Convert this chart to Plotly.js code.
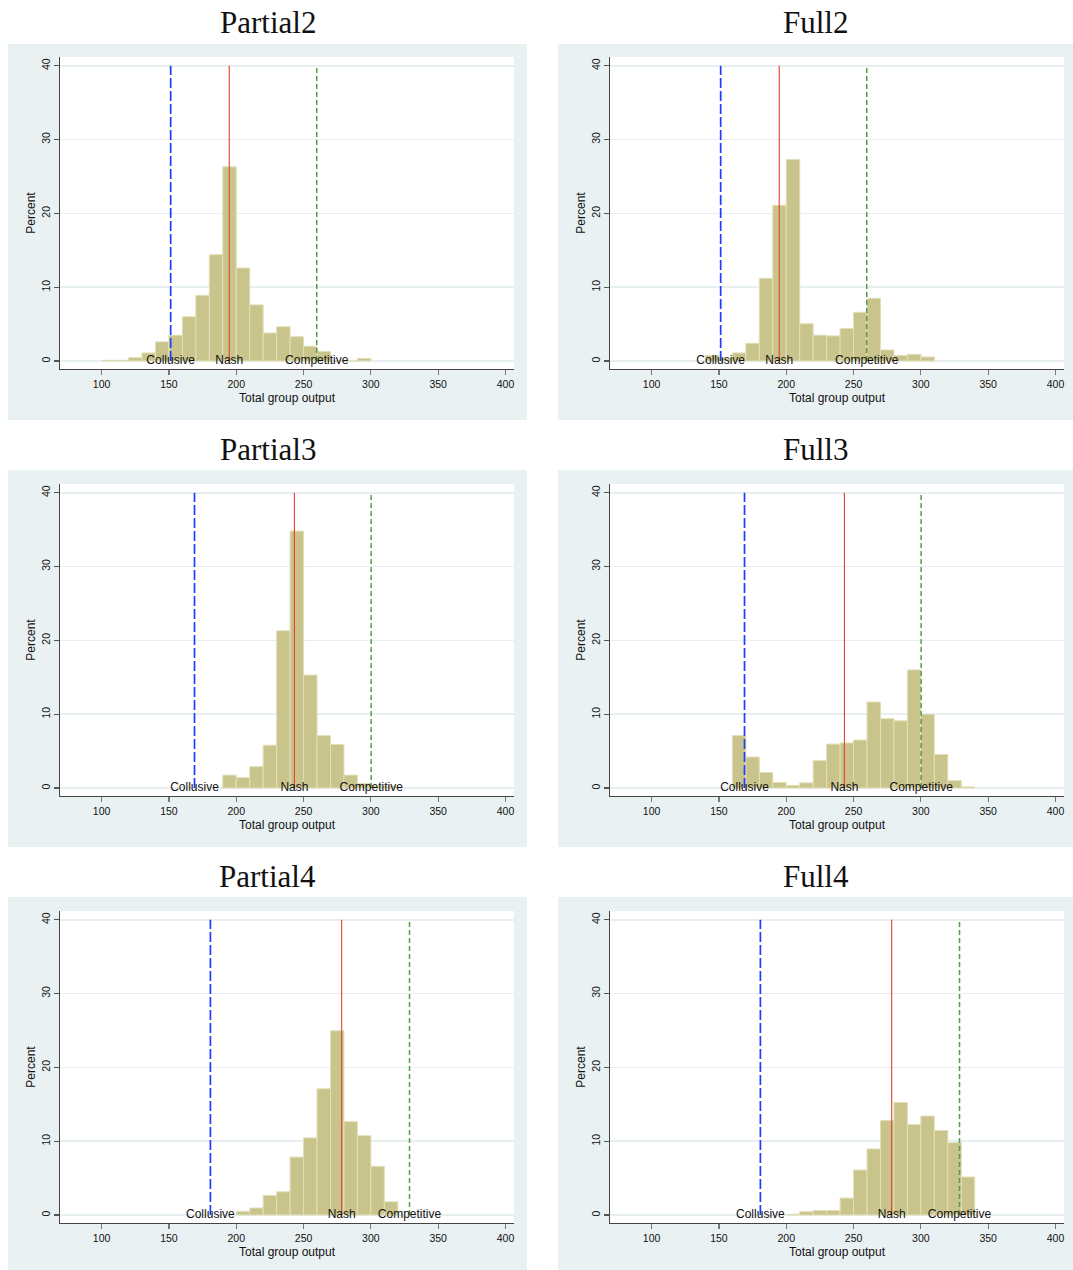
<!DOCTYPE html>
<html><head><meta charset="utf-8">
<script src="https://cdn.plot.ly/plotly-3.0.1.min.js"></script>
<style>html,body{margin:0;padding:0;background:#fff}#chart{width:1073px;height:1270px}</style>
</head><body><div id="chart"></div><script>
// ---- data ----
const panelTitles = ["Partial2", "Full2", "Partial3", "Full3", "Partial4", "Full4"];

const binsPartial2 = [100,110,120,130,140,150,160,170,180,190,200,210,220,230,240,250,260,270,280,290];
const pctPartial2  = [0.1,0.1,0.45,1.1,2.6,3.5,6.0,8.9,14.4,26.3,12.6,7.6,3.8,4.65,3.3,2.0,1.3,0,0,0.35];

const binsFull2 = [140,150,160,170,180,190,200,210,220,230,240,250,260,270,280,290,300];
const pctFull2  = [0.75,0.35,1.1,2.4,11.2,21.1,27.3,5.05,3.5,3.4,4.4,6.6,8.5,1.5,0.75,0.9,0.55];

const binsPartial3 = [190,200,210,220,230,240,250,260,270,280,290,300,310];
const pctPartial3  = [1.75,1.4,2.9,5.8,21.3,34.8,15.3,7.1,5.9,1.75,0.6,0.25,0.25];

const binsFull3 = [160,170,180,190,200,210,220,230,240,250,260,270,280,290,300,310,320,330];
const pctFull3  = [7.1,4.2,2.1,0.75,0.35,0.7,3.7,5.95,6.1,6.5,11.65,9.4,9.1,16.0,10.0,4.55,1.0,0.15];

const binsPartial4 = [200,210,220,230,240,250,260,270,280,290,300,310];
const pctPartial4  = [0.5,0.95,2.65,3.15,7.85,10.45,17.1,24.95,12.65,10.75,6.6,1.8];

const binsFull4 = [200,210,220,230,240,250,260,270,280,290,300,310,320,330];
const pctFull4  = [0.1,0.45,0.6,0.6,2.3,6.1,8.95,12.8,15.25,12.25,13.4,11.45,9.8,5.15];

const binWidth = 10;

// benchmark lines per number of firms (2, 3, 4)
const benchLabels = ["Collusive", "Nash", "Competitive"];
const bench2 = [151.3, 194.8, 259.8];
const bench3 = [169.0, 243.2, 300.2];
const bench4 = [180.8, 278.3, 328.7];

const xTicks = [100,150,200,250,300,350,400];
const yTicks = [0,10,20,30,40];
const xTitle = "Total group output";
const yTitle = "Percent";

// ---- assembly ----
const panelBins = [binsPartial2, binsFull2, binsPartial3, binsFull3, binsPartial4, binsFull4];
const panelPct  = [pctPartial2, pctFull2, pctPartial3, pctFull3, pctPartial4, pctFull4];
const panelBench = [bench2, bench2, bench3, bench3, bench4, bench4];

const W = 1073, H = 1270;
const colPlot = [[60, 514], [610, 1064]];
const colBox  = [[8, 527], [558, 1073]];
const rowPlot = [[57, 369], [484, 796], [911, 1223]];
const rowBox  = [[44, 420], [470, 847], [897, 1270]];
const titleY  = [22, 449, 876];

const benchStyle = [
  {color: "#1f3cff", width: 1.7, dash: "10px,3px"},
  {color: "#e8402f", width: 1.1, dash: "solid"},
  {color: "#5a9a45", width: 1.5, dash: "5px,3px"}
];

const data = [];
const layout = {
  width: W, height: H,
  margin: {l: 0, r: 0, t: 0, b: 0},
  paper_bgcolor: "#ffffff",
  plot_bgcolor: "rgba(0,0,0,0)",
  showlegend: false,
  hovermode: false,
  font: {family: "Liberation Sans, Arial, sans-serif", color: "#111", size: 12},
  shapes: [],
  annotations: []
};

for (let i = 0; i < 6; i++) {
  const r = Math.floor(i / 2), c = i % 2;
  const sfx = i === 0 ? "" : String(i + 1);
  const xa = "x" + sfx, ya = "y" + sfx;

  // background box and white plot region
  layout.shapes.push({type: "rect", xref: "paper", yref: "paper", layer: "below",
    x0: colBox[c][0] / W, x1: colBox[c][1] / W, y0: 1 - rowBox[r][1] / H, y1: 1 - rowBox[r][0] / H,
    fillcolor: "#eaf1f3", line: {width: 0}});
  layout.shapes.push({type: "rect", xref: "paper", yref: "paper", layer: "below",
    x0: colPlot[c][0] / W, x1: colPlot[c][1] / W, y0: 1 - rowPlot[r][1] / H, y1: 1 - rowPlot[r][0] / H,
    fillcolor: "#ffffff", line: {width: 0}});

  // panel title
  layout.annotations.push({text: panelTitles[i], xref: "paper", yref: "paper",
    x: (colBox[c][0] + colBox[c][1]) / 2 / W, y: 1 - titleY[r] / H,
    xanchor: "center", yanchor: "middle", showarrow: false,
    font: {family: "Liberation Serif, Times New Roman, serif", size: 31, color: "#111"}});

  layout["xaxis" + sfx] = {
    domain: [colPlot[c][0] / W, colPlot[c][1] / W], anchor: ya,
    range: [69.1, 406.3], tickvals: xTicks, ticktext: xTicks.map(String),
    showgrid: false, zeroline: false, showline: true, linecolor: "#444", linewidth: 1.2,
    ticks: "outside", ticklen: 5, tickcolor: "#777", tickwidth: 1.2,
    tickfont: {size: 10.5, color: "#111"},
    title: {text: xTitle, font: {size: 12, color: "#111"}, standoff: 4},
    fixedrange: true
  };
  layout["yaxis" + sfx] = {
    domain: [1 - rowPlot[r][1] / H, 1 - rowPlot[r][0] / H], anchor: xa,
    range: [-1.08, 41.18], tickvals: yTicks, ticktext: yTicks.map(String), tickangle: -90,
    showgrid: true, gridcolor: "#e8eff1", gridwidth: 1.6, zeroline: false,
    showline: true, linecolor: "#444", linewidth: 1.2,
    ticks: "outside", ticklen: 5, tickcolor: "#555", tickwidth: 1.2,
    tickfont: {size: 10.5, color: "#111"},
    title: {text: yTitle, font: {size: 12, color: "#111"}, standoff: 1},
    fixedrange: true
  };

  // histogram bars
  data.push({type: "bar", x: panelBins[i], y: panelPct[i], xaxis: xa, yaxis: ya,
    offset: 0, width: binWidth,
    marker: {color: "rgb(201,196,139)", line: {color: "rgb(226,223,184)", width: 1}},
    hoverinfo: "skip"});

  // benchmark vertical lines
  const b = panelBench[i];
  for (let k = 0; k < 3; k++) {
    data.push({type: "scatter", mode: "lines", x: [b[k], b[k]], y: [yTicks[0], yTicks[yTicks.length - 1]],
      xaxis: xa, yaxis: ya, line: benchStyle[k], hoverinfo: "skip"});
  }
  // benchmark labels at y = 0
  data.push({type: "scatter", mode: "text", x: b, y: [0, 0, 0], text: benchLabels,
    textposition: "middle center", textfont: {size: 12, color: "#111"},
    xaxis: xa, yaxis: ya, cliponaxis: false, hoverinfo: "skip"});
}

Plotly.newPlot("chart", data, layout, {staticPlot: true, displayModeBar: false});
</script></body></html>
